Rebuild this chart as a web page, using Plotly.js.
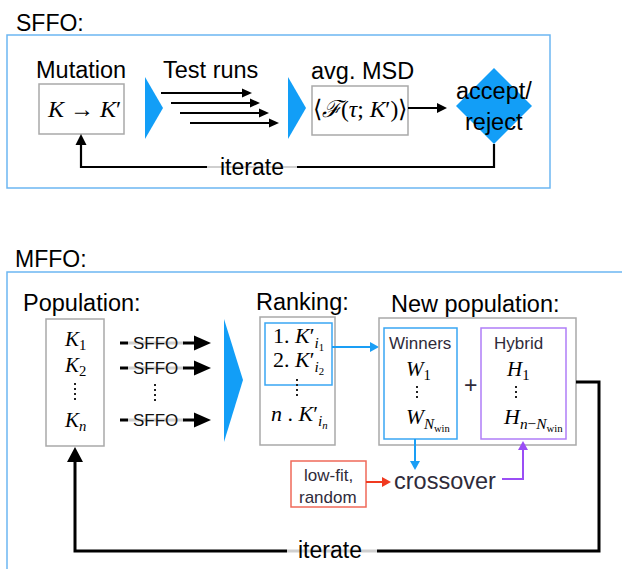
<!DOCTYPE html>
<html><head><meta charset="utf-8">
<script src="https://cdn.plot.ly/plotly-3.0.1.min.js"></script>
<style>html,body{margin:0;padding:0;background:#fff}</style>
</head><body>
<div id="chart" style="width:622px;height:569px"></div>
<script>
// ---- diagram text content ----
const sectionTitles = ["SFFO:", "MFFO:"];
const sffoStepLabels = ["Mutation", "Test runs", "avg. MSD"];
const sffoDecision = ["accept/", "reject"];
const mutationFormula = "<i>K</i> → <i>K</i>′";
const msdFormula = "⟨<i>ℱ</i>(<i>τ</i>; <i>K</i>′)⟩";
const loopLabel = "iterate";
const mffoStageLabels = ["Population:", "Ranking:", "New population:"];
const populationMembers = ["<i>K</i><sub>1</sub>", "<i>K</i><sub>2</sub>", "<i>K<sub>n</sub></i>"];
const runLabel = "SFFO";
const rankingEntries = ["1. <i>K</i>′<sub><i>i</i><sub>1</sub></sub>", "2. <i>K</i>′<sub><i>i</i><sub>2</sub></sub>", "<i>n</i> . <i>K</i>′<sub><i>i<sub>n</sub></i></sub>"];
const groupTitles = ["Winners", "Hybrid"];
const winnerMembers = ["<i>W</i><sub>1</sub>", "<i>W</i><sub><i>N</i><sub>win</sub></sub>"];
const hybridMembers = ["<i>H</i><sub>1</sub>", "<i>H</i><sub><i>n</i>−<i>N</i><sub>win</sub></sub>"];
const crossoverLabel = "crossover";
const lowFitLabels = ["low-fit,", "random"];
const plusSign = "+";

// ---- styles ----
const SANS = "Liberation Sans, Arial, sans-serif";
const SERIF = "Liberation Serif, Times New Roman, serif";
const BLUE = "#129ef7";
const FRAME = "#6cb6f2";
const GRAY = "#a9a9a9";
const LIGHTGRAY = "#cfcfcf";
const DARK = "#2f2b3a";
const BIG = 23.5;

const S = [], A = [];
function rect(x0, y0, x1, y1, color, w) {
  S.push({type:'rect', xref:'x', yref:'y', x0, y0, x1, y1, line:{color, width:w}, fillcolor:'rgba(0,0,0,0)'});
}
function pline(pts, color, w, dash) {
  S.push({type:'path', xref:'x', yref:'y', path:'M' + pts.map(p => p[0] + ',' + p[1]).join(' L'),
    line:{color, width:w, dash: dash || 'solid'}, fillcolor:'rgba(0,0,0,0)'});
}
function poly(pts, fill) {
  S.push({type:'path', xref:'x', yref:'y', path:'M' + pts.map(p => p[0] + ',' + p[1]).join(' L') + ' Z',
    line:{color:fill, width:0}, fillcolor:fill});
}
function head(tx, ty, dir, len, hw, color) {
  let pts;
  if (dir === 'r') pts = [[tx, ty], [tx - len, ty - hw], [tx - len, ty + hw]];
  if (dir === 'l') pts = [[tx, ty], [tx + len, ty - hw], [tx + len, ty + hw]];
  if (dir === 'u') pts = [[tx, ty], [tx - hw, ty + len], [tx + hw, ty + len]];
  if (dir === 'd') pts = [[tx, ty], [tx - hw, ty - len], [tx + hw, ty - len]];
  poly(pts, color);
}
function txt(x, y, text, size, family, color, xanchor) {
  A.push({x, y, xref:'x', yref:'y', text, showarrow:false, xanchor: xanchor || 'center', yanchor:'middle',
    font:{family, size, color: color || '#000'}});
}
function vdots(x, y0, y1) { pline([[x, y0], [x, y1]], '#222', 2, '2px,3px'); }

// ================= SFFO =================
txt(14, 23, sectionTitles[0], 23, SANS, '#000', 'left');
rect(7, 35, 550, 188, FRAME, 1.5);

txt(81, 70, sffoStepLabels[0], BIG, SANS);
rect(39, 84, 124, 134, GRAY, 1.5);
txt(84, 109, mutationFormula, 24, SERIF);

poly([[145, 77], [163, 108], [145, 139]], BLUE);
txt(210, 70, sffoStepLabels[1], BIG, SANS);
[[161, 252, 93], [171, 260, 103], [180, 269, 113], [190, 279, 123]].forEach(a => {
  pline([[a[0], a[2]], [a[1] - 8, a[2]]], '#000', 2);
  head(a[1], a[2], 'r', 10, 4.5, '#000');
});
poly([[288, 77], [306, 108], [288, 139]], BLUE);

txt(362, 71, sffoStepLabels[2], BIG, SANS);
rect(312, 86, 408, 135, GRAY, 1.5);
txt(360, 109, msdFormula, 23.5, SERIF);
pline([[408, 108], [438, 108]], '#000', 2);
head(447, 108, 'r', 10, 5, '#000');

poly([[494, 68], [532, 106], [494, 144], [456, 106]], BLUE);
txt(494, 91, sffoDecision[0], BIG, SANS);
txt(494, 122, sffoDecision[1], BIG, SANS);

pline([[494, 144], [494, 167], [297, 167]], '#000', 2.2);
pline([[297, 167], [207, 167]], LIGHTGRAY, 2.2);
pline([[207, 167], [81, 167], [81, 143]], '#000', 2.2);
head(81, 134, 'u', 11, 5.5, '#000');
txt(252, 167, loopLabel, 23, SANS);

// ================= MFFO =================
txt(13, 259, sectionTitles[1], 23, SANS, '#000', 'left');
pline([[7, 572], [7, 272], [625, 272]], FRAME, 1.5);

txt(21, 303, mffoStageLabels[0], BIG, SANS, '#000', 'left');
rect(46, 319, 104, 446, GRAY, 1.5);
txt(75, 340, populationMembers[0], 21, SERIF);
txt(75, 366, populationMembers[1], 21, SERIF);
vdots(75, 383, 402);
txt(75, 421, populationMembers[2], 21, SERIF);

[343, 368, 420].forEach(y => {
  pline([[120, y], [128, y]], '#000', 3);
  pline([[128, y], [184, y]], LIGHTGRAY, 3);
  pline([[183, y], [196, y]], '#000', 3);
  head(211, y, 'r', 17, 7.5, '#000');
  txt(155, y, runLabel, 17, SANS, '#111');
});
vdots(155, 384, 402);

poly([[224, 319], [243, 380], [224, 442]], BLUE);

txt(254, 302, mffoStageLabels[1], BIG, SANS, '#000', 'left');
rect(260, 317, 335, 445, GRAY, 1.5);
rect(265, 323, 332, 385, '#3aa6f3', 1.5);
txt(271, 338, rankingEntries[0], 22, SERIF, '#000', 'left');
txt(271, 362, rankingEntries[1], 22, SERIF, '#000', 'left');
vdots(297, 379, 398);
txt(269, 416, rankingEntries[2], 22, SERIF, '#000', 'left');

pline([[332, 347], [371, 347]], '#1a9ef5', 2);
head(379, 347, 'r', 9, 5, '#1a9ef5');

txt(475, 304, mffoStageLabels[2], BIG, SANS);
rect(379, 318, 576, 445, GRAY, 1.5);
rect(384, 328, 457, 439, '#3aa6f3', 1.5);
rect(481, 328, 566, 439, '#b07ef8', 1.5);
txt(420, 343, groupTitles[0], 17, SANS, DARK);
txt(518, 343, groupTitles[1], 17, SANS, DARK);
txt(418, 370, winnerMembers[0], 21, SERIF);
vdots(417, 386, 400);
txt(428, 419, winnerMembers[1], 21.5, SERIF);
txt(470, 385, plusSign, 23, SANS, DARK);
txt(518, 370, hybridMembers[0], 21, SERIF);
vdots(516, 386, 400);
txt(533, 419, hybridMembers[1], 22, SERIF);

// crossover part
pline([[415, 439], [415, 462]], '#1a9ef5', 2);
head(415, 470, 'd', 9, 5, '#1a9ef5');
txt(445, 481, crossoverLabel, BIG, SANS, DARK);
rect(291, 461, 366, 507, '#f06a5a', 1.5);
txt(328, 475, lowFitLabels[0], 17, SANS, DARK);
txt(328, 497, lowFitLabels[1], 17, SANS, DARK);
pline([[366, 482], [383, 482]], '#f03a20', 2);
head(391, 482, 'r', 9, 5, '#f03a20');
pline([[502, 479], [523, 479], [523, 449]], '#9a4ef5', 2);
head(523, 441, 'u', 9, 5, '#9a4ef5');

// iterate loop
pline([[576, 382], [599, 382], [599, 551], [377, 551]], '#000', 3);
pline([[377, 551], [287, 551]], LIGHTGRAY, 3);
pline([[287, 551], [75, 551], [75, 460]], '#000', 3);
head(75, 447, 'u', 15, 8, '#000');
txt(330, 550, loopLabel, 23, SANS);

const layout = {
  width: 622, height: 569,
  margin: {l:0, r:0, t:0, b:0},
  paper_bgcolor: '#fff', plot_bgcolor: '#fff',
  xaxis: {range:[0, 622], visible:false, fixedrange:true},
  yaxis: {range:[569, 0], visible:false, fixedrange:true},
  showlegend: false,
  shapes: S, annotations: A
};
Plotly.newPlot('chart', [], layout, {staticPlot:true, displayModeBar:false});
</script>
</body></html>
